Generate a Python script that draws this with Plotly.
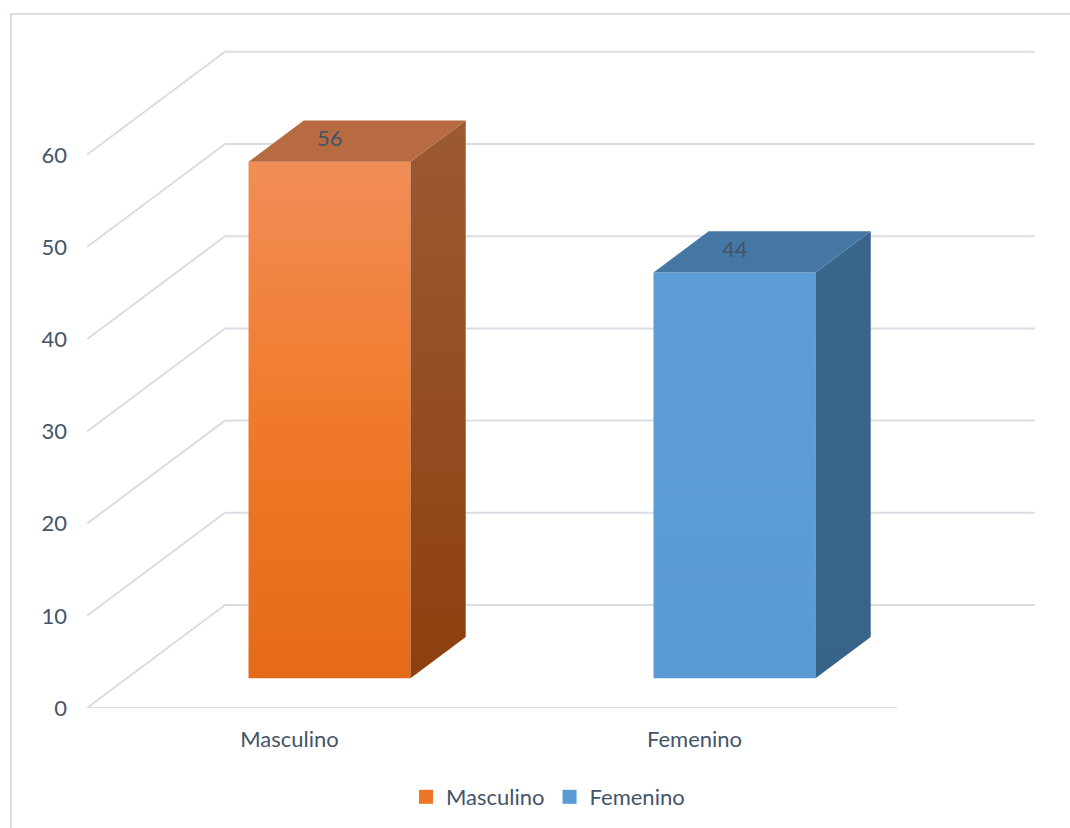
import plotly.graph_objects as go

# ---- data ----
categories = ["Masculino", "Femenino"]
values = [56, 44]
y_ticks = [0, 10, 20, 30, 40, 50, 60]

# ---- styling ----
front_colors = [
    [[0.0, "#E46A18"], [0.5, "#F07A2A"], [1.0, "#F28D58"]],
    [[0.0, "#5B9BD5"], [1.0, "#5D9CD6"]],
]
side_colors = [
    [[0.0, "#8E3F0F"], [1.0, "#9C5A33"]],
    [[0.0, "#376388"], [1.0, "#3B668B"]],
]
top_colors = ["#B86B40", "#4577A5"]
legend_colors = ["#EE7528", "#5B9BD5"]
text_color = "#44546A"
grid_color = "#DADDE3"
font_family = "Lato, 'Open Sans', sans-serif"
font_size = 22

# ---- geometry (pixels -> axis units) ----
W, H = 1070, 828
PLOT_L, PLOT_R, PLOT_T, PLOT_B = 87, 1040, 40, 708
CAT_PX = 405.0          # pixels per category slot
VAL_PX = 9.22           # pixels per value unit
DEPTH_X_PX, DEPTH_Y_PX = 138.0, 103.0

DX = DEPTH_X_PX / CAT_PX    # full depth offset along x (category units)
DY = DEPTH_Y_PX / VAL_PX    # full depth offset along y (value units)
BAR_W = 0.4                 # bar width as fraction of a category slot
D0, D1 = 0.29, 0.69         # bar front / back position within the depth

x_range = [-0.5, -0.5 + (PLOT_R - PLOT_L) / CAT_PX]
y_range = [0, (PLOT_B - PLOT_T) / VAL_PX]
n = len(categories)

fig = go.Figure()

# walls: left side diagonals + back wall lines for each tick, and floor front edge
for v in y_ticks:
    fig.add_trace(go.Scatter(
        x=[-0.5, -0.5 + DX, n - 0.5 + DX],
        y=[v, v + DY, v + DY],
        mode="lines", line=dict(color=grid_color, width=2),
        hoverinfo="skip", showlegend=False,
    ))
fig.add_trace(go.Scatter(
    x=[-0.5, n - 0.5], y=[0, 0],
    mode="lines", line=dict(color=grid_color, width=2),
    hoverinfo="skip", showlegend=False,
))

# 3-D bars built from their values
annotations = []
for i, (cat, v) in enumerate(zip(categories, values)):
    x0 = i - BAR_W / 2 + D0 * DX
    x1 = i + BAR_W / 2 + D0 * DX
    yb = D0 * DY
    yt = v + D0 * DY
    bx = (D1 - D0) * DX
    by = (D1 - D0) * DY

    # front face
    fig.add_trace(go.Scatter(
        x=[x0, x1, x1, x0, x0], y=[yb, yb, yt, yt, yb],
        mode="lines", line=dict(width=0), fill="toself",
        fillgradient=dict(type="vertical", colorscale=front_colors[i]),
        hoverinfo="skip", showlegend=False,
    ))
    # side face
    fig.add_trace(go.Scatter(
        x=[x1, x1 + bx, x1 + bx, x1, x1], y=[yb, yb + by, yt + by, yt, yb],
        mode="lines", line=dict(width=0), fill="toself",
        fillgradient=dict(type="vertical", colorscale=side_colors[i]),
        hoverinfo="skip", showlegend=False,
    ))
    # top face
    fig.add_trace(go.Scatter(
        x=[x0, x1, x1 + bx, x0 + bx, x0], y=[yt, yt, yt + by, yt + by, yt],
        mode="lines", line=dict(width=0), fill="toself",
        fillcolor=top_colors[i],
        hoverinfo="skip", showlegend=False,
    ))
    # value label on the top face
    annotations.append(dict(
        x=(x0 + x1) / 2, y=yt, xref="x", yref="y",
        text=str(v), showarrow=False, yshift=24,
        font=dict(family=font_family, size=font_size, color=text_color),
    ))

# legend entries
for cat, col in zip(categories, legend_colors):
    fig.add_trace(go.Scatter(
        x=[None], y=[None], mode="markers", name=cat,
        marker=dict(symbol="square", size=14, color=col),
    ))

plot_w = PLOT_R - PLOT_L
plot_h = PLOT_B - PLOT_T


def px_to_paper(px, py):
    return (px - PLOT_L) / plot_w, (PLOT_B - py) / plot_h


bx0, by0 = px_to_paper(11, 14)
bx1, by1 = px_to_paper(1080, 840)

fig.update_layout(
    width=W, height=H,
    margin=dict(l=PLOT_L, r=W - PLOT_R, t=PLOT_T, b=H - PLOT_B),
    paper_bgcolor="white", plot_bgcolor="white",
    font=dict(family=font_family, size=font_size, color=text_color),
    xaxis=dict(
        range=x_range, tickmode="array", tickvals=list(range(n)), ticktext=categories,
        showgrid=False, zeroline=False, showline=False, ticks="",
        ticklabelstandoff=16, automargin=False,
        tickfont=dict(family=font_family, size=font_size, color=text_color),
    ),
    yaxis=dict(
        range=y_range, tickmode="array", tickvals=y_ticks,
        showgrid=False, zeroline=False, showline=False, ticks="",
        ticklabelstandoff=19, automargin=False,
        tickfont=dict(family=font_family, size=font_size, color=text_color),
    ),
    legend=dict(
        orientation="h", xref="container", yref="container",
        x=548 / W, y=1 - 797 / H,
        xanchor="center", yanchor="middle",
        font=dict(family=font_family, size=font_size, color=text_color),
        itemwidth=30, tracegroupgap=0,
    ),
    annotations=annotations,
    shapes=[dict(
        type="rect", xref="paper", yref="paper",
        x0=bx0, y0=by0, x1=bx1, y1=by1,
        line=dict(color="#D9DDE4", width=2), fillcolor="rgba(0,0,0,0)", layer="below",
    )],
)

fig.write_html("out.html")
